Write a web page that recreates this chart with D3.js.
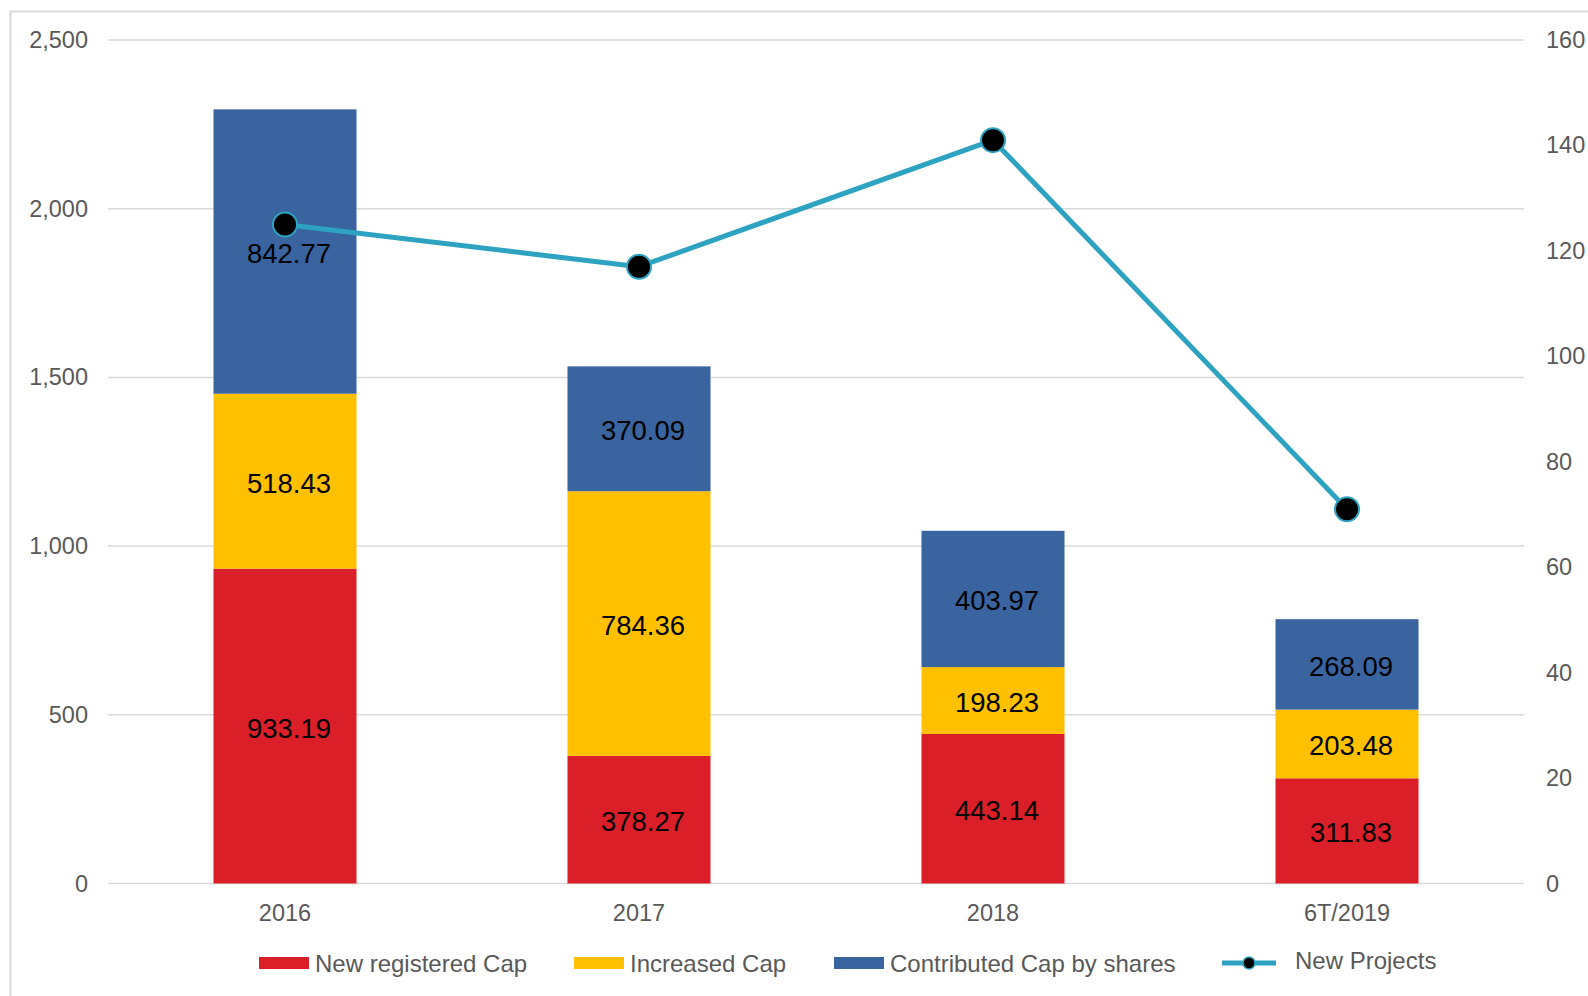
<!DOCTYPE html>
<html>
<head>
<meta charset="utf-8">
<script src="https://cdn.jsdelivr.net/npm/d3@7"></script>
<style>
  html, body { margin: 0; padding: 0; background: #fff; }
  svg { display: block; font-family: "Liberation Sans", Arial, sans-serif; }
</style>
</head>
<body>
<svg id="chart" width="1588" height="996"></svg>
<script>
const categories = ["2016", "2017", "2018", "6T/2019"];
const newRegistered = [933.19, 378.27, 443.14, 311.83];
const increasedCap = [518.43, 784.36, 198.23, 203.48];
const contributedCap = [842.77, 370.09, 403.97, 268.09];
const newProjects = [125, 117, 141, 71];
const leftTicks = [0, 500, 1000, 1500, 2000, 2500];
const rightTicks = [0, 20, 40, 60, 80, 100, 120, 140, 160];
const seriesNames = ["New registered Cap", "Increased Cap", "Contributed Cap by shares", "New Projects"];
const colors = ["#da1f28", "#ffc000", "#3a64a0"];
const lineColor = "#2ea3c1";

(function () {
const svg = d3.select("#chart");
const pLeft = 108, pRight = 1524, pTop = 40, pBottom = 883.5;

// border
svg.append("rect").attr("x", 10.5).attr("y", 11.5).attr("width", 1620).attr("height", 1020)
  .attr("fill", "none").attr("stroke", "#d9d9d9").attr("stroke-width", 2);

const x = d3.scaleBand().domain(categories).range([pLeft, pRight]).paddingInner(0.596).paddingOuter(0.298);
const yL = d3.scaleLinear().domain([0, 2500]).range([pBottom, pTop]);
const yR = d3.scaleLinear().domain([0, 160]).range([pBottom, pTop]);

// gridlines
svg.append("g").selectAll("line").data(leftTicks).join("line")
  .attr("x1", pLeft).attr("x2", pRight)
  .attr("y1", d => yL(d)).attr("y2", d => yL(d))
  .attr("stroke", "#d9d9d9").attr("stroke-width", 1.5);

const styleAxis = g => {
  g.select(".domain").remove();
  g.selectAll("text").attr("font-size", 23.5).attr("fill", "#595959")
    .attr("font-family", "Liberation Sans, Arial, sans-serif");
};

// left axis
svg.append("g").attr("transform", `translate(${pLeft},0)`)
  .call(d3.axisLeft(yL).tickValues(leftTicks).tickFormat(d3.format(",")).tickSize(0).tickPadding(20))
  .call(styleAxis);

// right axis
svg.append("g").attr("transform", `translate(${pRight},0)`)
  .call(d3.axisRight(yR).tickValues(rightTicks).tickSize(0).tickPadding(22))
  .call(styleAxis);

// bottom axis
svg.append("g").attr("transform", `translate(0,${pBottom})`)
  .call(d3.axisBottom(x).tickSize(0).tickPadding(21))
  .call(styleAxis);

// stacked bars
const table = categories.map((c, i) => ({ cat: c, a: newRegistered[i], b: increasedCap[i], c: contributedCap[i] }));
const stack = d3.stack().keys(["a", "b", "c"])(table);
const layers = svg.append("g").selectAll("g").data(stack).join("g").attr("fill", (d, i) => colors[i]);
layers.selectAll("rect").data(d => d).join("rect")
  .attr("x", d => x(d.data.cat))
  .attr("width", x.bandwidth())
  .attr("y", d => yL(d[1]))
  .attr("height", d => yL(d[0]) - yL(d[1]));

// labels
const labG = svg.append("g");
stack.forEach(layer => {
  layer.forEach(d => {
    labG.append("text")
      .attr("x", x(d.data.cat) + x.bandwidth() / 2 + 4)
      .attr("y", yL((d[0] + d[1]) / 2) + 2)
      .attr("text-anchor", "middle")
      .attr("dominant-baseline", "central")
      .attr("font-size", 27.5)
      .attr("fill", "#000")
      .text(d3.format(".2f")(d[1] - d[0]));
  });
});

// line
const line = d3.line().x((d, i) => x(categories[i]) + x.bandwidth() / 2).y(d => yR(d));
svg.append("path").datum(newProjects).attr("d", line)
  .attr("fill", "none").attr("stroke", lineColor).attr("stroke-width", 5).attr("stroke-linejoin", "round");
svg.append("g").selectAll("circle").data(newProjects).join("circle")
  .attr("cx", (d, i) => x(categories[i]) + x.bandwidth() / 2)
  .attr("cy", d => yR(d))
  .attr("r", 12)
  .attr("fill", "#000").attr("stroke", lineColor).attr("stroke-width", 2);

// legend
const leg = svg.append("g");
const legY = 963;
const swatchX = [259, 574, 834];
for (let i = 0; i < 3; i++) {
  leg.append("rect").attr("x", swatchX[i]).attr("y", legY - 6).attr("width", 50).attr("height", 12).attr("fill", colors[i]);
  leg.append("text").attr("x", swatchX[i] + 56).attr("y", legY).attr("dominant-baseline", "central")
    .attr("font-size", 24).attr("fill", "#595959").text(seriesNames[i]);
}
leg.append("line").attr("x1", 1222).attr("x2", 1276).attr("y1", legY).attr("y2", legY)
  .attr("stroke", lineColor).attr("stroke-width", 5);
leg.append("circle").attr("cx", 1249).attr("cy", legY).attr("r", 6).attr("fill", "#000").attr("stroke", lineColor).attr("stroke-width", 1.5);
leg.append("text").attr("x", 1295).attr("y", legY - 3).attr("dominant-baseline", "central")
  .attr("font-size", 24).attr("fill", "#595959").text(seriesNames[3]);
})();
</script>
</body>
</html>
